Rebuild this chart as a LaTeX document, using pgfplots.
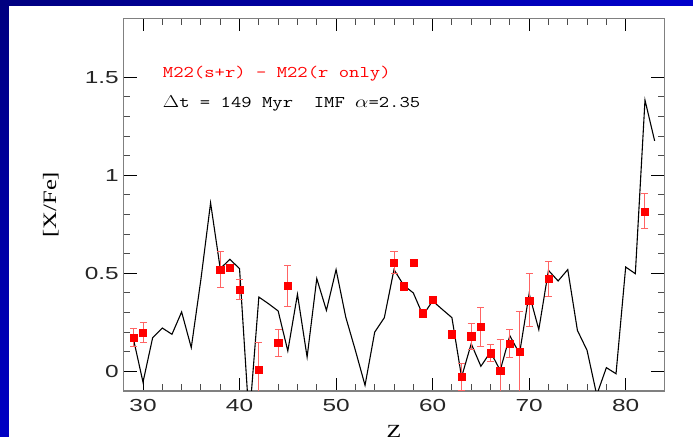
\documentclass[border=0pt]{standalone}
\usepackage{graphicx}
\usepackage{fontspec}
\usepackage{pgfplots}
\usepackage{pgfplotstable}
\pgfplotsset{compat=1.18}
\newfontfamily\ticksans{Liberation Sans}
\newfontfamily\labserif{Liberation Serif}
\definecolor{navy1}{RGB}{0,0,128}
\definecolor{blue2}{RGB}{0,0,196}
\definecolor{blue3}{RGB}{0,0,204}
\definecolor{errred}{RGB}{255,100,100}

\pgfplotstableread{
Z v
29 0.167
30 -0.055
31 0.172
32 0.221
33 0.189
34 0.303
35 0.121
36 0.47
37 0.859
38 0.524
39 0.571
40 0.524
41 -0.25
42 0.379
43 0.345
44 0.308
45 0.104
46 0.393
47 0.073
48 0.473
49 0.311
50 0.519
51 0.277
52 0.107
53 -0.071
54 0.2
55 0.274
56 0.519
57 0.439
58 0.4
59 0.286
60 0.359
61 0.316
62 0.274
63 -0.029
64 0.141
65 0.026
66 0.099
67 0.005
68 0.182
69 0.09
70 0.396
71 0.213
72 0.515
73 0.461
74 0.519
75 0.209
76 0.107
77 -0.12
78 0.019
79 -0.012
80 0.532
81 0.498
82 1.383
83 1.175
}\modeltab

\pgfplotstableread{
Z y e
29 0.172 0.045
30 0.197 0.05
38 0.519 0.09
39 0.529 0.015
40 0.418 0.05
42 0.007 0.14
44 0.146 0.07
45 0.437 0.105
56 0.556 0.056
57 0.434 0.015
58 0.556 0.015
59 0.297 0.015
60 0.367 0.012
62 0.19 0.02
63 -0.029 0.068
64 0.179 0.066
65 0.228 0.1
66 0.093 0.045
67 0.002 0.163
68 0.141 0.07
69 0.099 0.206
70 0.362 0.135
72 0.471 0.09
82 0.816 0.09
}\obstab

\begin{document}
\begin{tikzpicture}
\clip (0,0) rectangle (693bp,437bp);
\shade[top color=navy1, bottom color=blue2] (0,0) rectangle (9bp,437bp);
\shade[left color=navy1, right color=blue3] (0,431bp) rectangle (693bp,437bp);
\fill[white] (9bp,0) rectangle (693bp,431bp);
\begin{axis}[
  at={(123.7bp,46bp)}, anchor=south west,
  scale only axis, width=540.6bp, height=372.7bp,
  xmin=28, xmax=84, ymin=-0.1, ymax=1.8,
  xtick={30,40,50,60,70,80},
  ytick={0,0.5,1,1.5},
  yticklabels={0,0.5,1,1.5},
  minor x tick num=4, minor y tick num=4,
  tick align=inside, xtick pos=both, ytick pos=both,
  major tick length=13bp, minor tick length=6.5bp,
  major tick style={black, line width=1bp},
  minor tick style={black!70, line width=0.9bp},
  axis line style={draw=black!50, line width=1.3bp},
  /pgf/number format/assume math mode=true,
  tick label style={font=\ticksans\fontsize{17.5}{20}\selectfont, text=black!85, xscale=1.4},
  xticklabel style={yshift=-5bp},
  xlabel={\scalebox{1.3}[1]{Z}},
  every axis x label/.style={at={(axis description cs:0.5,-0.084)}, anchor=north, font=\labserif\fontsize{18.6}{20}\selectfont},
  ylabel={\scalebox{1.3}[1]{[X/Fe]}},
  every axis y label/.style={at={(axis description cs:-0.135,0.5)}, anchor=center, rotate=90, font=\labserif\fontsize{19}{20}\selectfont},
]
\addplot[black, line width=1.1bp, no marks] table[x=Z, y=v] {\modeltab};
\addplot[only marks, mark=square*, mark size=3.6bp, red,
  error bars/.cd, y dir=both, y explicit,
  error bar style={errred, line width=1bp},
  error mark options={rotate=90, mark size=3.5bp, errred, line width=1bp}]
  table[x=Z, y=y, y error=e] {\obstab};
\node[anchor=base west, red, font=\ttfamily\fontsize{16.4}{18}\selectfont, xscale=1.23, inner sep=0]
  at (axis cs:32.04,1.5) {M22(s+r) - M22(r only)};
\node[anchor=base west, black, font=\ttfamily\fontsize{16.4}{18}\selectfont, xscale=1.23, inner sep=0]
  at (axis cs:32.04,1.347) {$\Delta$t = 149 Myr~~IMF $\alpha$=2.35};
\end{axis}
\end{tikzpicture}
\end{document}
